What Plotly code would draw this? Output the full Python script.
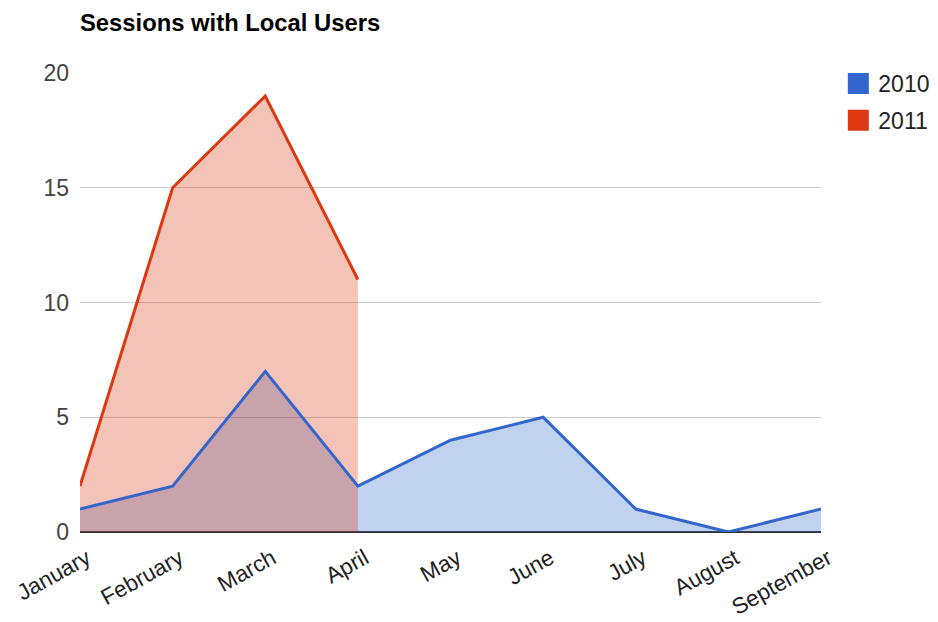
import plotly.graph_objects as go

months = ["January", "February", "March", "April", "May", "June", "July", "August", "September"]
s2010 = [1, 2, 7, 2, 4, 5, 1, 0, 1]
s2011 = [2, 15, 19, 11]
series_names = ["2010", "2011"]
colors = ["#3366cc", "#dc3912"]
fills = ["rgba(51,102,204,0.3)", "rgba(220,57,18,0.3)"]
yticks = [0, 5, 10, 15, 20]

fig = go.Figure()
data = [s2010, s2011]
# areas first
for vals, fc in zip(data, fills):
    fig.add_trace(go.Scatter(x=months[:len(vals)], y=vals, mode="none", fill="tozeroy",
                             fillcolor=fc, showlegend=False, hoverinfo="skip"))
# lines on top
for vals, c in zip(data, colors):
    fig.add_trace(go.Scatter(x=months[:len(vals)], y=vals, mode="lines",
                             line=dict(color=c, width=3), showlegend=False))
# legend entries
for name, c in zip(series_names, colors):
    fig.add_trace(go.Scatter(x=[None], y=[None], mode="markers", name=name, legendgroup=name,
                             marker=dict(symbol="square", size=16, color=c,
                                         line=dict(color=c, width=5))))

fig.update_layout(
    width=938, height=622,
    margin=dict(l=72, r=124, t=65, b=98),
    paper_bgcolor="white", plot_bgcolor="white",
    font=dict(family="Liberation Sans, Arial, sans-serif", size=22, color="#444"),
    title=dict(text="<b>Sessions with Local Users</b>", x=72/938, xanchor="left",
               y=1 - 15/622, yanchor="middle",
               font=dict(size=23.8, color="#000")),
    legend=dict(x=1.022, y=1.024, xanchor="left", yanchor="top",
                font=dict(size=23, color="#222"), traceorder="grouped", tracegroupgap=4),
    xaxis=dict(categoryorder="array", categoryarray=months, range=[0, 8],
               showgrid=False, tickangle=-29, ticks="", tickfont=dict(size=22.5, color="#222"),
               zeroline=False, showline=False, fixedrange=True, ticklabelstandoff=8,
               ticklabelshift=7, automargin=False),
    yaxis=dict(range=[0, 20], tickvals=yticks, showgrid=True, gridcolor="#cccccc",
               gridwidth=1, zeroline=True, zerolinecolor="#333333", zerolinewidth=2,
               tickfont=dict(size=23, color="#444"), ticks="", ticklabelstandoff=10,
               automargin=False),
)
fig.write_html("out.html")
